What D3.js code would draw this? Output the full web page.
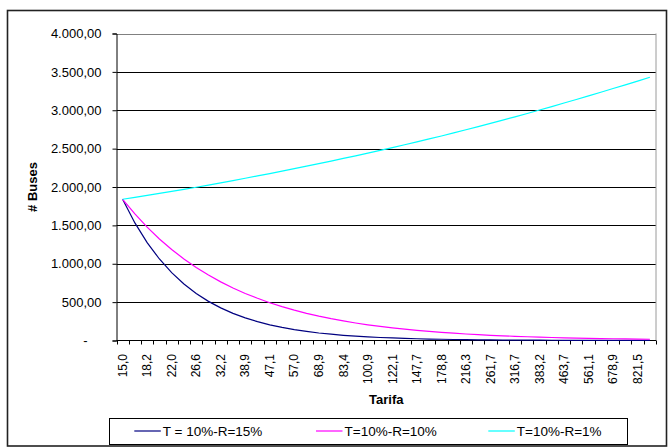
<!DOCTYPE html>
<html>
<head>
<meta charset="utf-8">
<script src="https://cdnjs.cloudflare.com/ajax/libs/d3/7.8.5/d3.min.js"></script>
<style>
  html, body { margin: 0; padding: 0; background: #fff; }
  svg { display: block; font-family: "Liberation Sans", Arial, sans-serif; }
</style>
</head>
<body>
<svg id="chart" width="670" height="448"></svg>
<script>
// ---- Data ----
const categories = ["15,0","16,5","18,2","20,0","22,0","24,2","26,6","29,2","32,2","35,4",
  "38,9","42,8","47,1","51,8","57,0","62,7","68,9","75,8","83,4","91,7",
  "100,9","111,0","122,1","134,3","147,7","162,5","178,8","196,7","216,3","237,9",
  "261,7","287,9","316,7","348,4","383,2","421,5","463,7","510,1","561,1","617,2",
  "678,9","746,8","821,5","903,6"];

const seriesNames = ["T = 10%-R=15%", "T=10%-R=10%", "T=10%-R=1%"];
const seriesColors = ["#000080", "#FF00FF", "#00FFFF"];

const serieR15 = [1840,1532,1275,1062,884,736,613,510,425,353,
  294,245,204,170,141,118,98,82,68,57,
  47,39,33,27,23,19,16,13,11,9,
  7.5,6,5,4.3,3.6,3,2.5,2,1.7,1.4,
  1.2,1,0.8,0.7];
const serieR10 = [1840,1649,1477,1323,1186,1062,952,853,764,685,
  613,550,492,441,395,354,317,284,255,228,
  204,183,164,147,132,118,106,95,85,76,
  68,61,55,49,44,39,35,32,28,25,
  23,20,18,16];
const serieR1 = [1840,1866,1892,1918,1944,1970,1997,2025,2054,2084,
  2114,2144,2175,2207,2239,2271,2304,2338,2372,2406,
  2441,2477,2513,2550,2588,2626,2665,2705,2746,2787,
  2829,2871,2914,2958,3003,3048,3094,3140,3187,3235,
  3283,3331,3380,3430];
const seriesValues = [serieR15, serieR10, serieR1];

const yTicks = [0,500,1000,1500,2000,2500,3000,3500,4000];
const yTickLabels = ["-","500,00","1.000,00","1.500,00","2.000,00","2.500,00","3.000,00","3.500,00","4.000,00"];

const xTitle = "Tarifa";
const yTitle = "# Buses";

// ---- Layout ----
const svg = d3.select("#chart");
const plot = { left: 116.5, right: 656, top: 33.5, bottom: 340.5 };

const x = d3.scaleBand().domain(categories).range([plot.left, plot.right]).padding(0);
const y = d3.scaleLinear().domain([0, 4000]).range([plot.bottom, plot.top]);

// outer border
svg.append("rect")
  .attr("x", 7.5).attr("y", 10.5).attr("width", 659).attr("height", 435.5)
  .attr("fill", "none").attr("stroke", "#222").attr("stroke-width", 1.6);

// gridlines
svg.append("g").selectAll("line")
  .data(yTicks.filter(d => d > 0))
  .join("line")
  .attr("x1", plot.left).attr("x2", plot.right)
  .attr("y1", d => Math.round(y(d)) + 0.5).attr("y2", d => Math.round(y(d)) + 0.5)
  .attr("stroke", d => d === 4000 ? "#808080" : "#000")
  .attr("stroke-width", 1);

// right plot border
svg.append("line")
  .attr("x1", plot.right).attr("x2", plot.right)
  .attr("y1", plot.top).attr("y2", plot.bottom)
  .attr("stroke", "#9a9a9a").attr("stroke-width", 1);

// y axis
const yAxis = d3.axisLeft(y)
  .tickValues(yTicks)
  .tickSize(4)
  .tickPadding(11)
  .tickFormat((d, i) => yTickLabels[i]);
const gy = svg.append("g")
  .attr("transform", `translate(${plot.left},0)`)
  .call(yAxis);
gy.select(".domain").attr("stroke", "#000");
gy.selectAll(".tick line").attr("stroke", "#000");
gy.selectAll(".tick text")
  .attr("font-size", 13)
  .attr("font-family", "Liberation Sans, Arial, sans-serif")
  .attr("fill", "#000")
  .filter(d => d === 0)
  .attr("text-anchor", "middle")
  .attr("x", 85.3 - plot.left);

// x axis labels (every other category)
const xAxis = d3.axisBottom(x)
  .tickSize(0)
  .tickFormat((d, i) => (i % 2 === 0 ? d : ""));
const gx = svg.append("g")
  .attr("transform", `translate(0,${plot.bottom})`)
  .call(xAxis);
gx.select(".domain").remove();
gx.selectAll(".tick text")
  .attr("font-size", 12)
  .attr("font-family", "Liberation Sans, Arial, sans-serif")
  .attr("fill", "#000")
  .attr("transform", "rotate(-90)")
  .attr("text-anchor", "end")
  .attr("x", -13.5)
  .attr("y", 0)
  .attr("dy", "0.35em");

// x axis line and boundary tick marks
svg.append("line")
  .attr("x1", plot.left).attr("x2", plot.right)
  .attr("y1", plot.bottom).attr("y2", plot.bottom)
  .attr("stroke", "#000");
const edges = categories.map(c => x(c)).concat([plot.right]);
svg.append("g").selectAll("line")
  .data(edges)
  .join("line")
  .attr("x1", d => Math.round(d) + 0.5).attr("x2", d => Math.round(d) + 0.5)
  .attr("y1", plot.bottom).attr("y2", plot.bottom + 4)
  .attr("stroke", "#000");

// series lines
const line = d3.line()
  .x((d, i) => x(categories[i]) + x.bandwidth() / 2)
  .y(d => y(d));
svg.append("g").selectAll("path")
  .data(seriesValues)
  .join("path")
  .attr("d", d => line(d))
  .attr("fill", "none")
  .attr("stroke", (d, i) => seriesColors[i])
  .attr("stroke-width", 1.2);

// axis titles
svg.append("text")
  .attr("x", (plot.left + plot.right) / 2).attr("y", 403.5)
  .attr("text-anchor", "middle")
  .attr("font-size", 13).attr("font-weight", "bold")
  .text(xTitle);
svg.append("text")
  .attr("transform", `translate(36.5,${(plot.top + plot.bottom) / 2}) rotate(-90)`)
  .attr("text-anchor", "middle")
  .attr("font-size", 13).attr("font-weight", "bold")
  .text(yTitle);

// legend
const legend = { x: 109.5, y: 418.5, w: 518, h: 26 };
svg.append("rect")
  .attr("x", legend.x).attr("y", legend.y).attr("width", legend.w).attr("height", legend.h)
  .attr("fill", "#fff").attr("stroke", "#000").attr("stroke-width", 1);
const legendLineX = [134.3, 316, 488.3];
const lg = svg.append("g").selectAll("g")
  .data(seriesNames)
  .join("g")
  .attr("transform", (d, i) => `translate(${legendLineX[i]},0)`);
lg.append("line")
  .attr("x1", 0).attr("x2", 26.5)
  .attr("y1", 431).attr("y2", 431)
  .attr("stroke", (d, i) => seriesColors[i])
  .attr("stroke-width", 1.2);
lg.append("text")
  .attr("x", 28.5).attr("y", 435.7)
  .attr("font-size", 13.5)
  .attr("fill", "#000")
  .text(d => d);
</script>
</body>
</html>
